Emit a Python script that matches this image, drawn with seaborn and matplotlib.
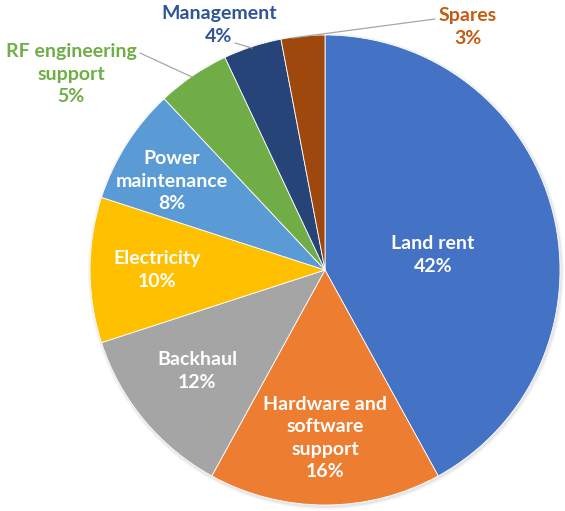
import matplotlib.pyplot as plt
import seaborn as sns
from matplotlib.patches import Circle

# data
categories = ['Land rent', 'Hardware and\nsoftware\nsupport', 'Backhaul', 'Electricity',
              'Power\nmaintenance', 'RF engineering\nsupport', 'Management', 'Spares']
shares = [42, 16, 12, 10, 8, 5, 4, 3]
slice_colors = ['#4472C4', '#ED7D31', '#A5A5A5', '#FFC000',
                '#5B9BD5', '#70AD47', '#264478', '#9E480E']

sns.set_theme(style='white')
plt.rcParams['font.family'] = ['Lato', 'DejaVu Sans']

W, H = 565, 511
CX, CY, R = 325, 270, 235  # pie centre / radius in pixels


def px(x, y):
    # pixel position (from top-left) -> data units of the pie
    return (x - CX) / R, (CY - y) / R


fig = plt.figure(figsize=(W / 100, H / 100), dpi=100)
ax = fig.add_axes([0, 0, 1, 1])

# soft shadow behind the pie
for k, a in [(1.012, 0.08), (1.006, 0.12)]:
    ax.add_patch(Circle((0.004, -0.006), k, color='gray', alpha=a, lw=0, zorder=0))

wedges, _ = ax.pie(shares, colors=slice_colors, startangle=90, counterclock=False,
                   radius=1, center=(0, 0),
                   wedgeprops=dict(edgecolor='white', linewidth=0.6))

# label layout: (pixel x, pixel y); inner labels white, outer use slice colour
label_pos = [(433, 255), (325, 438), (197, 371), (157, 270), (172, 181),
             (71, 74), (219, 25), (468, 27)]
text_colors = ['white'] * 5 + ['#70AD47', '#2F5597', '#C55A11']

for name, val, (x, y), c in zip(categories, shares, label_pos, text_colors):
    tx, ty = px(x, y)
    ax.text(tx, ty, f'{name}\n{val}%', ha='center', va='center', color=c,
            fontsize=14, fontweight='bold', linespacing=1.38, zorder=5)

# leader lines for outside labels
leaders = [((140, 53), (192, 77)), ((235, 43), (252, 48)), ((435, 19), (292, 38))]
for (x0, y0), (x1, y1) in leaders:
    a0, b0 = px(x0, y0)
    a1, b1 = px(x1, y1)
    ax.plot([a0, a1], [b0, b1], color='#A6A6A6', lw=0.9, zorder=4)

ax.set_xlim(-CX / R, (W - CX) / R)
ax.set_ylim(-(H - CY) / R, CY / R)
ax.set_aspect('equal')
ax.axis('off')

fig.savefig('out.png', dpi=100, facecolor='white')
